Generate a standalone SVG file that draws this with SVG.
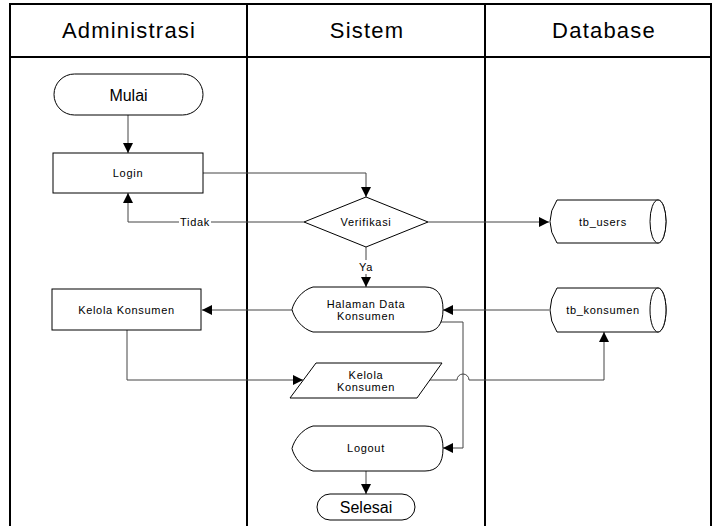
<svg xmlns="http://www.w3.org/2000/svg" width="713" height="526" viewBox="0 0 713 526">
<style>
text{font-family:"Liberation Sans",Arial,sans-serif;fill:#000;text-anchor:middle;dominant-baseline:central}
.hd{font-size:22px;letter-spacing:1.2px}
.sm{font-size:11px;letter-spacing:0.7px}
.md{font-size:16px}
.shape{fill:#fff;stroke:#000;stroke-width:1}
.lane{fill:none;stroke:#000;stroke-width:2}
.con{fill:none;stroke:#444;stroke-width:1}
.lbl{fill:#fff;stroke:none}
</style>
<defs>
<marker id="ah" viewBox="0 0 10 10" refX="10" refY="5" markerWidth="10" markerHeight="10" markerUnits="userSpaceOnUse" orient="auto">
<path d="M0,0 L10,5 L0,10 Z" fill="#000"/>
</marker>
</defs>
<rect width="713" height="526" fill="#fff"/>
<g id="lanes">
<rect class="lane" x="10" y="4" width="701" height="530"/>
<line class="lane" x1="10" y1="57" x2="711" y2="57"/>
<line class="lane" x1="247" y1="4" x2="247" y2="526"/>
<line class="lane" x1="485" y1="4" x2="485" y2="526"/>
<text class="hd" x="129" y="30">Administrasi</text>
<text class="hd" x="367" y="30">Sistem</text>
<text class="hd" x="604" y="30">Database</text>
</g>
<g id="connectors">
<path class="con" d="M128,115 V153" marker-end="url(#ah)"/>
<path class="con" d="M203,173 H366 V197" marker-end="url(#ah)"/>
<path class="con" d="M304,222 H128 V193" marker-end="url(#ah)"/>
<path class="con" d="M428,222 H549" marker-end="url(#ah)"/>
<path class="con" d="M366,247 V287" marker-end="url(#ah)"/>
<path class="con" d="M292,310 H202" marker-end="url(#ah)"/>
<path class="con" d="M549,310 H443" marker-end="url(#ah)"/>
<path class="con" d="M127,330 V380 H303" marker-end="url(#ah)"/>
<path class="con" d="M430,380 H457 A6,6 0 0 1 469,380 H604 V332" marker-end="url(#ah)"/>
<path class="con" d="M439,322 H463 V448 H443" marker-end="url(#ah)"/>
<path class="con" d="M366,471 V494" marker-end="url(#ah)"/>
<rect class="lbl" x="179" y="215" width="32" height="14"/>
<text class="sm" x="195" y="222">Tidak</text>
<rect class="lbl" x="358" y="260" width="16" height="14"/>
<text class="sm" x="366" y="267">Ya</text>
</g>
<g id="mulai">
<rect class="shape" x="54" y="74" width="149" height="41" rx="20.5"/>
<text class="md" x="128.5" y="95">Mulai</text>
</g>
<g id="login">
<rect class="shape" x="53" y="153" width="150" height="40"/>
<text class="sm" x="128" y="173">Login</text>
</g>
<g id="verifikasi">
<path class="shape" d="M366,197 L428,222 L366,247 L304,222 Z"/>
<text class="sm" x="366" y="222">Verifikasi</text>
</g>
<g id="tb_users">
<path class="shape" d="M557,200 H658 A8,21.5 0 0 1 658,243 H557 Q543,221.5 557,200 Z"/>
<ellipse class="shape" cx="658" cy="221.5" rx="8" ry="21.5"/>
<text class="sm" x="603" y="222">tb_users</text>
</g>
<g id="halaman">
<path class="shape" d="M313,287 H425 Q443,287 443,309.5 Q443,332 425,332 H313 C302,329 294,318 292,309.5 C294,301 302,290 313,287 Z"/>
<text class="sm" x="366" y="303.5">Halaman Data</text>
<text class="sm" x="366" y="316">Konsumen</text>
</g>
<g id="kelola_konsumen">
<rect class="shape" x="52" y="289" width="149" height="41"/>
<text class="sm" x="126.5" y="309.5">Kelola Konsumen</text>
</g>
<g id="tb_konsumen">
<path class="shape" d="M557,288 H658 A8,22 0 0 1 658,332 H557 Q543,310 557,288 Z"/>
<ellipse class="shape" cx="658" cy="310" rx="8" ry="22"/>
<text class="sm" x="603" y="310">tb_konsumen</text>
</g>
<g id="kelola_input">
<path class="shape" d="M316,363 H442 L417,398 H290 Z"/>
<text class="sm" x="366" y="374.5">Kelola</text>
<text class="sm" x="366" y="387">Konsumen</text>
</g>
<g id="logout">
<path class="shape" d="M313,426 H425 Q443,426 443,448.5 Q443,471 425,471 H313 C302,468 294,457 292,448.5 C294,440 302,429 313,426 Z"/>
<text class="sm" x="366" y="448">Logout</text>
</g>
<g id="selesai">
<rect class="shape" x="317" y="494" width="98" height="26" rx="13"/>
<text class="md" x="366" y="507">Selesai</text>
</g>
</svg>
